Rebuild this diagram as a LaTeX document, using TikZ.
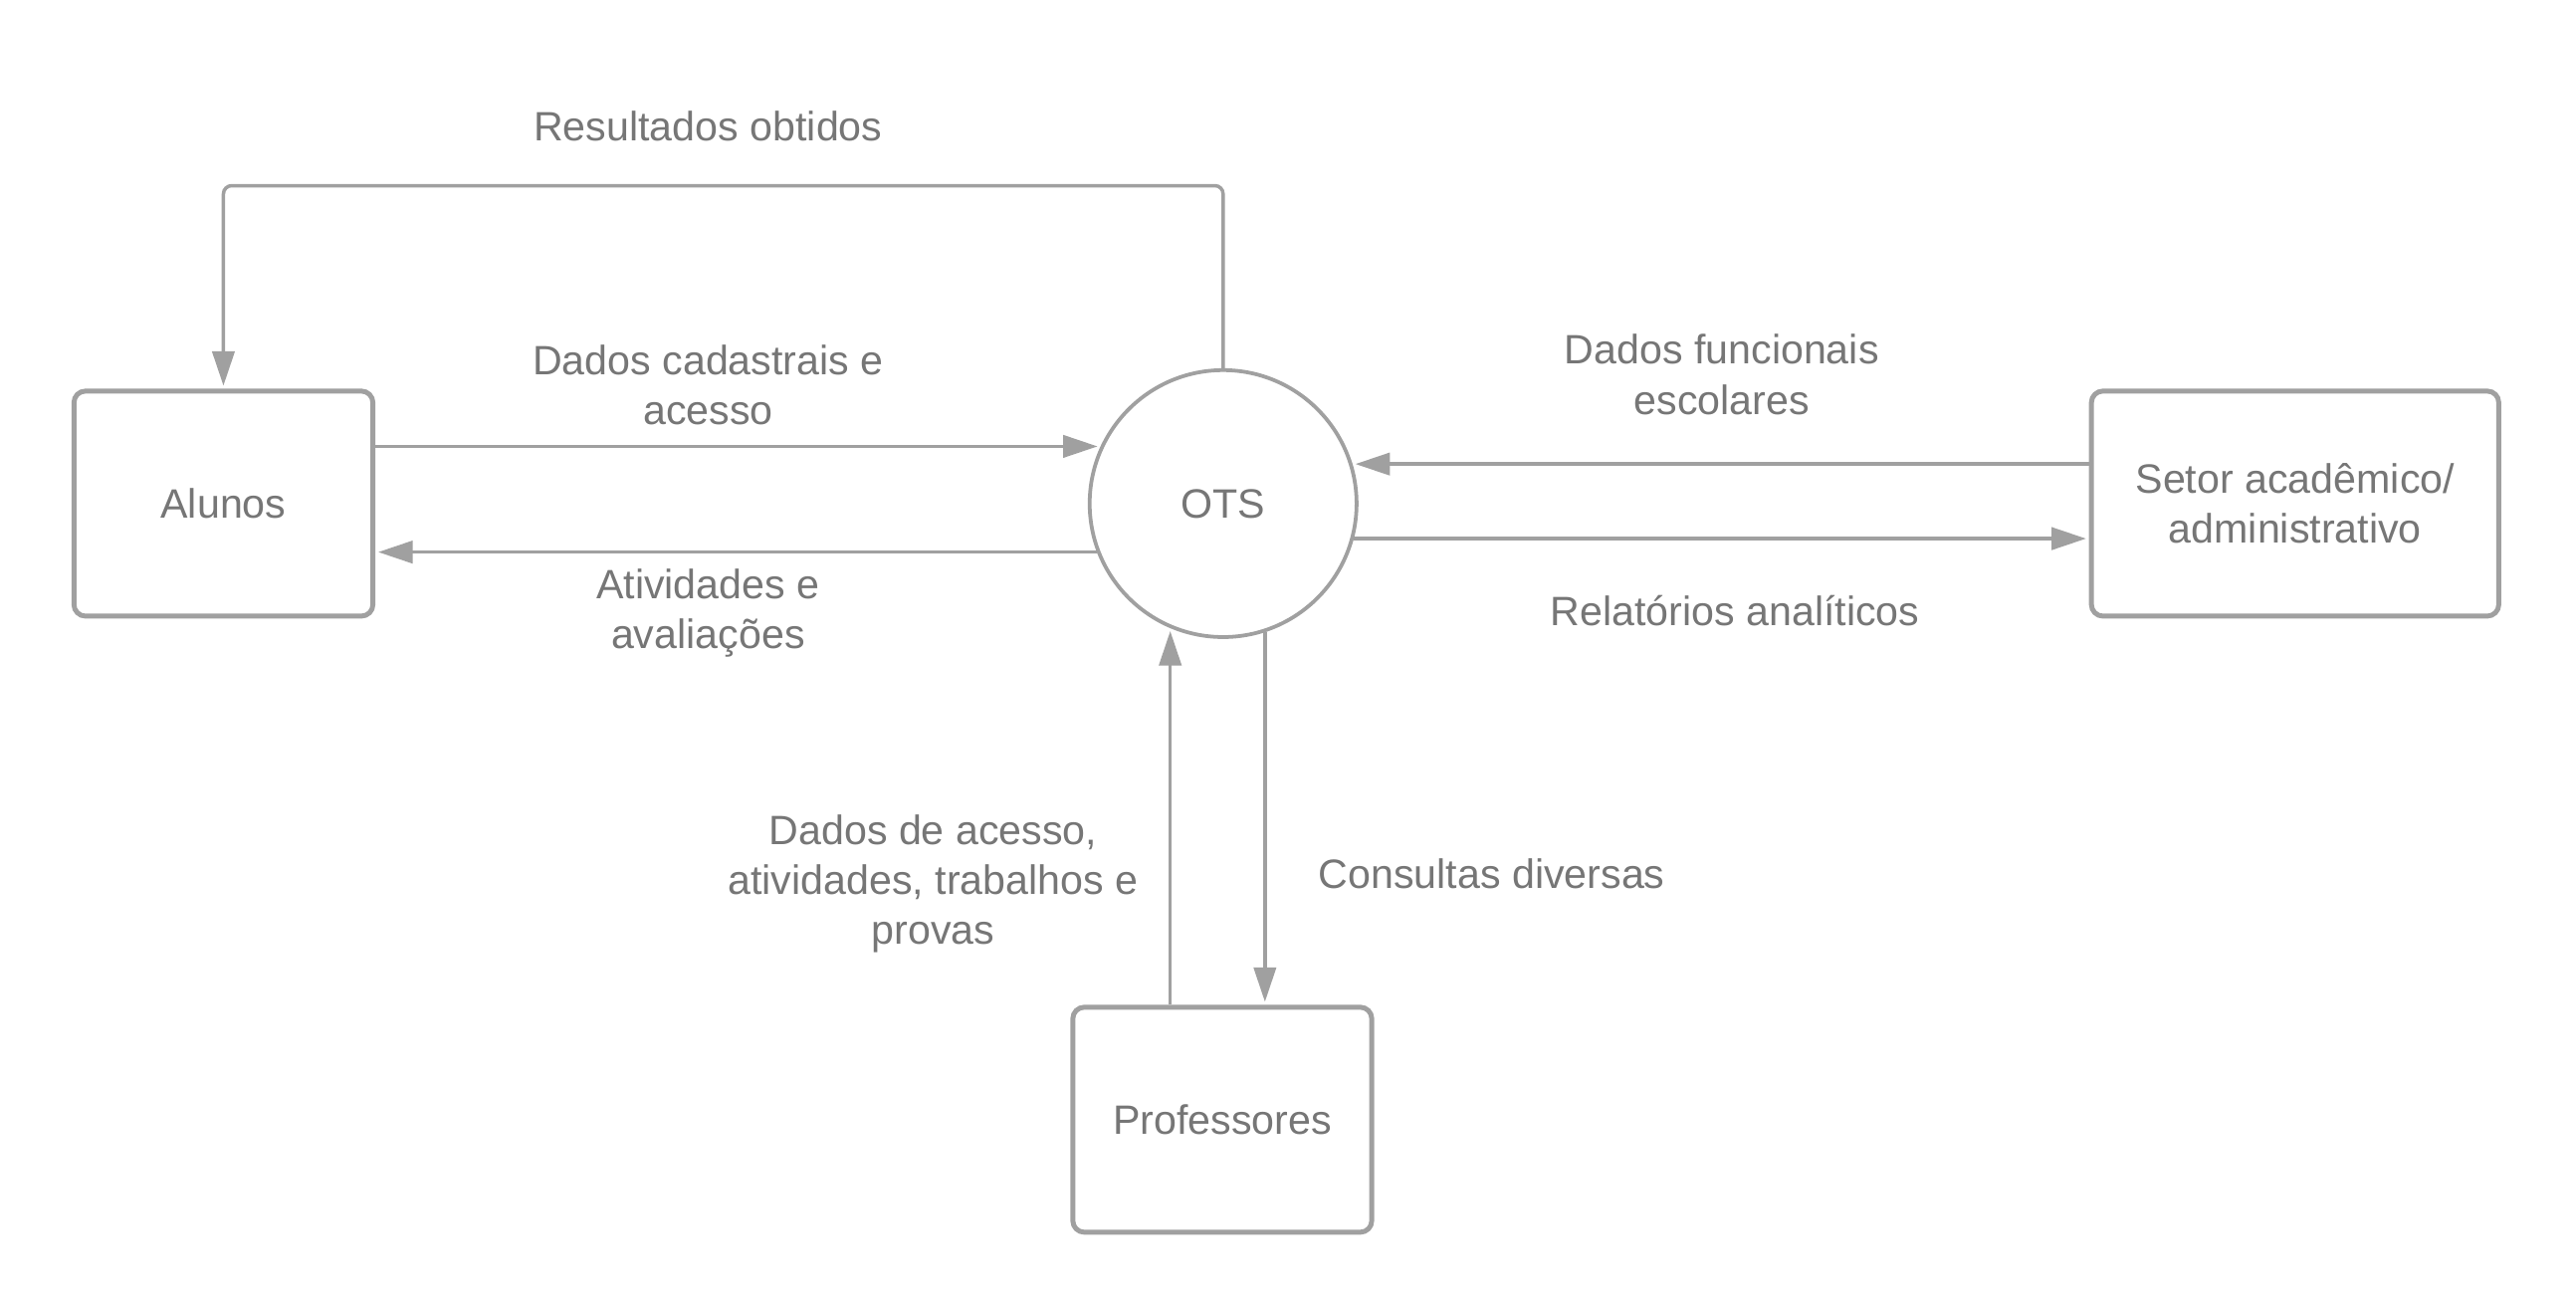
\documentclass[tikz,border=0pt]{standalone}
\usepackage{fontspec}
\setmainfont{Liberation Sans}
\usepackage{tikz}
\usetikzlibrary{arrows.meta,positioning,calc}
\definecolor{edge}{RGB}{160,160,160}
\definecolor{txt}{RGB}{118,118,118}
\tikzset{
  ent/.style={rectangle,rounded corners=1.4mm,draw=edge,line width=1.7pt,fill=white,
    minimum width=3.64cm,minimum height=2.74cm,inner sep=0pt,align=center,text=txt},
  proc/.style={circle,draw=edge,line width=1.3pt,fill=white,minimum size=3.25cm,
    inner sep=0pt,text=txt},
  flow/.style={-{Triangle[length=4.2mm,width=2.7mm]},draw=edge,line width=1.2pt,shorten >=1pt},
  lbl/.style={align=center,text=txt,inner sep=0pt},
}

\begin{document}
\begin{tikzpicture}[x=0.02cm,y=-0.02cm,
  every node/.append style={font=\fontsize{14.2}{17.3}\selectfont}]
\useasboundingbox (0,0) rectangle (1568,796);
% entities and process
\node[ent] (alunos) at (136,306.5) {Alunos};
\node[proc] (ots) at (744.5,306.5) {OTS};
\node[ent,minimum width=4.96cm] (setor) at (1397,306.5) {Setor acadêmico/\\administrativo};
\node[ent] (prof) at (744,681.5) {Professores};
% flows with Alunos
\coordinate (topline) at (0,113);
\draw[flow,rounded corners=1mm] (ots.north) -- (ots.north |- topline) -| (alunos.north);
\draw[flow] (alunos.east |- ots.155.3) -- (ots.155.3);
\draw[flow] (ots.201) -- (alunos.east |- ots.201);
\node[lbl] (resultados) at (431,77) {Resultados obtidos};
\node[lbl] (cadastro) at (431,234.5) {Dados cadastrais e\\acesso};
\node[lbl] (atividades) at (431,373) {Atividades e\\avaliações};
% flows with Setor
\draw[flow] (setor.west |- ots.17.3) -- (ots.17.3);
\draw[flow] (ots.-15.1) -- (setor.west |- ots.-15.1);
\node[lbl] (funcionais) at (1048,228) {Dados funcionais\\escolares};
\node[lbl] (relatorios) at (1056,372) {Relatórios analíticos};
% flows with Professores
\draw[flow] (prof.north -| ots.247.6) -- (ots.247.6);
\draw[flow] (ots.288) -- (prof.north -| ots.288);
\node[lbl] (envios) at (568,538) {Dados de acesso,\\atividades, trabalhos e\\provas};
\node[lbl] (consultas) at (908,532) {Consultas diversas};
\end{tikzpicture}
\end{document}
